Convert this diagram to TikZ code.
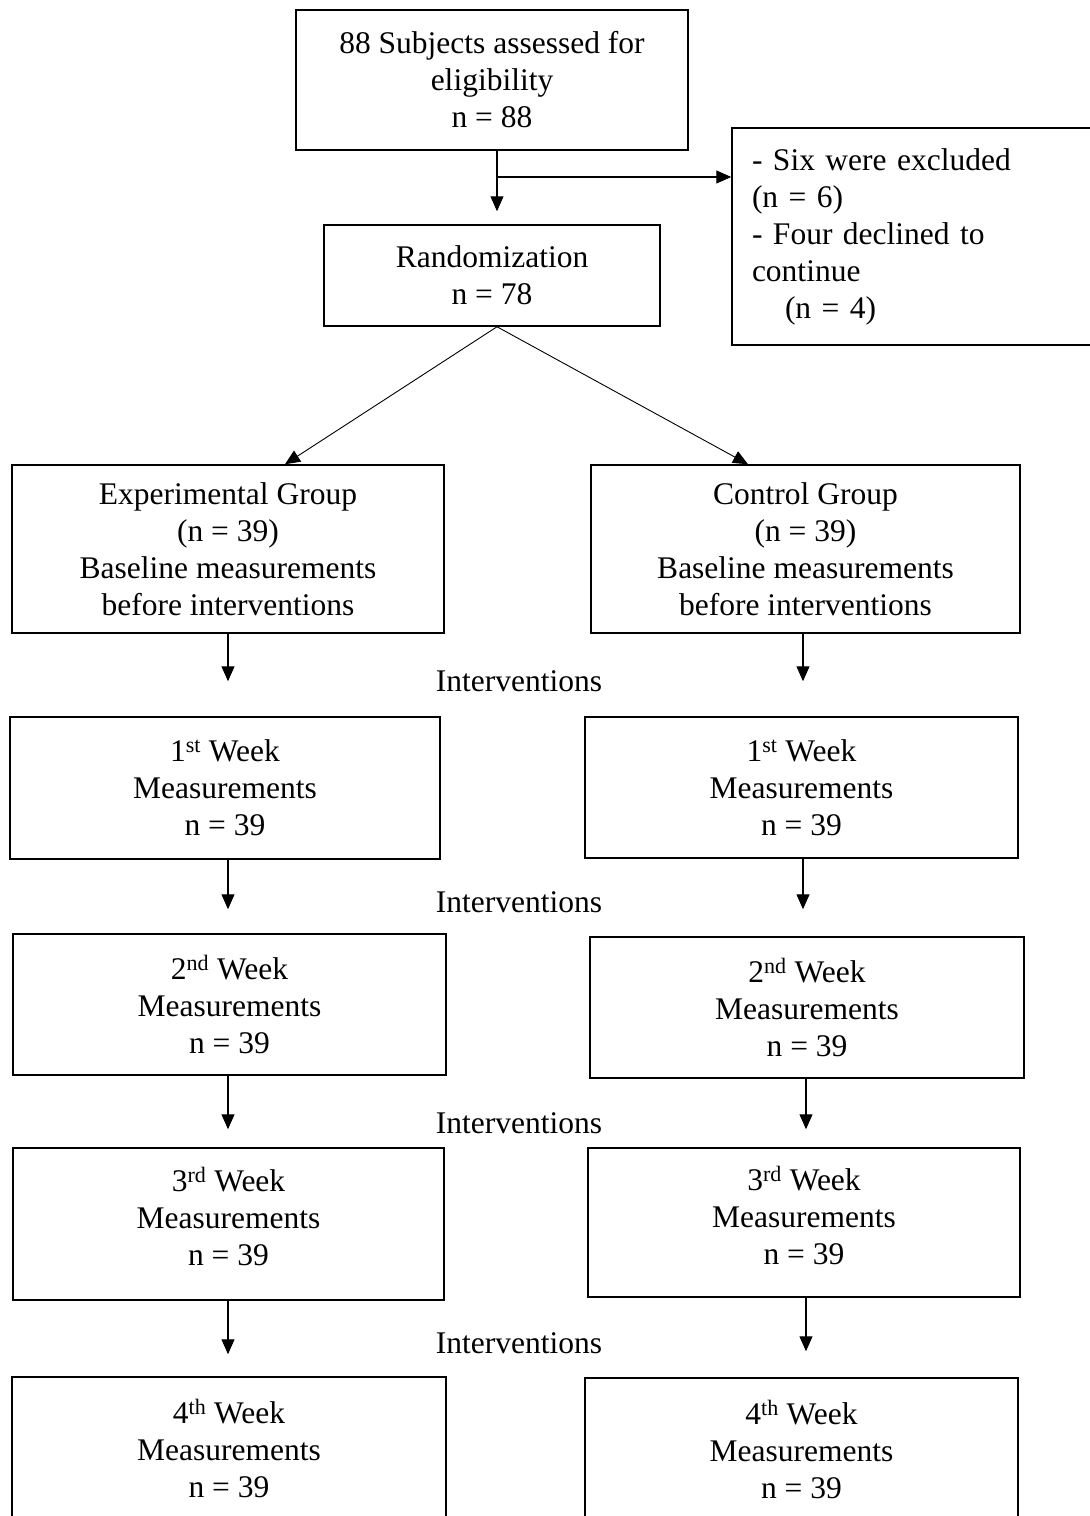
\documentclass[tikz,border=0pt]{standalone}
\usepackage{fontspec}
\setmainfont{Liberation Serif}
\usetikzlibrary{arrows.meta}
\begin{document}
\begin{tikzpicture}[x=1pt,y=-1pt,
  box/.style={draw, line width=1.5pt, rectangle, align=center, inner sep=0pt,
              font=\fontsize{31.5}{37}\selectfont},
  arr/.style={line width=1.1pt, -{Triangle[length=15pt,width=13pt]}},
  diag/.style={line width=0.9pt, -{Triangle[length=15pt,width=13pt]}},
  lbl/.style={font=\fontsize{31.5}{37}\selectfont, inner sep=0pt}]
\useasboundingbox (0,0) rectangle (1090,1516);
\clip (0,0) rectangle (1090,1516);

% boxes
\node[box, minimum width=392pt, minimum height=140pt] (top) at (492,80)
  {88 Subjects assessed for\\eligibility\\n = 88};
\node[box, minimum width=336pt, minimum height=101pt] (rand) at (492,275.5)
  {Randomization\\n = 78};
\node[box, align=left, text width=328pt, inner xsep=20pt, minimum height=217pt] (excl) at (916,236.5)
  {- Six were excluded\\(n = 6)\\- Four declined to\\continue\\\hspace*{33pt}(n = 4)};
\node[box, minimum width=432pt, minimum height=168pt] (exp) at (228,549)
  {Experimental Group\\(n = 39)\\Baseline measurements\\before interventions};
\node[box, minimum width=429pt, minimum height=168pt] (ctl) at (805.5,549)
  {Control Group\\(n = 39)\\Baseline measurements\\before interventions};

\node[box, minimum width=430pt, minimum height=142pt] (w1l) at (225,788)
  {1\textsuperscript{st} Week\\Measurements\\n = 39};
\node[box, minimum width=433pt, minimum height=141pt] (w1r) at (801.5,787.5)
  {1\textsuperscript{st} Week\\Measurements\\n = 39};
\node[box, minimum width=433pt, minimum height=141pt] (w2l) at (229.5,1004.5)
  {2\textsuperscript{nd} Week\\Measurements\\n = 39};
\node[box, minimum width=434pt, minimum height=141pt] (w2r) at (807,1007.5)
  {2\textsuperscript{nd} Week\\Measurements\\n = 39};
\node[box, minimum width=431pt, minimum height=152pt] (w3l) at (228.5,1224)
  {3\textsuperscript{rd} Week\\Measurements\\n = 39\\[-22pt]\mbox{}};
\node[box, minimum width=432pt, minimum height=149pt] (w3r) at (804,1222.5)
  {3\textsuperscript{rd} Week\\Measurements\\n = 39\\[-22pt]\mbox{}};
\node[box, minimum width=434pt, minimum height=142pt] (w4l) at (229,1448)
  {4\textsuperscript{th} Week\\Measurements\\n = 39};
\node[box, minimum width=433pt, minimum height=142pt] (w4r) at (801.5,1449)
  {4\textsuperscript{th} Week\\Measurements\\n = 39};

% interventions labels
\node[lbl] (i1) at (519,681) {Interventions};
\node[lbl] (i2) at (519,902) {Interventions};
\node[lbl] (i3) at (519,1123) {Interventions};
\node[lbl] (i4) at (519,1343) {Interventions};

% helper coordinates
\coordinate (j) at (497,177);
\coordinate (el) at (285,0);
\coordinate (er) at (748,0);
\coordinate (xl) at (228,0);
\coordinate (xr) at (803,0);
\coordinate (xr2) at (806,0);

% connectors
\draw[arr, shorten >=13pt] (top.south -| j) -- (rand.north -| j);
\draw[arr] (j) -- (j -| excl.west);
\draw[diag] (rand.south -| j) -- (exp.north -| el);
\draw[diag] (rand.south -| j) -- (ctl.north -| er);

\draw[arr, shorten >=35pt] (exp.south -| xl) -- (w1l.north -| xl);
\draw[arr, shorten >=24pt] (w1l.south -| xl) -- (w2l.north -| xl);
\draw[arr, shorten >=18pt] (w2l.south -| xl) -- (w3l.north -| xl);
\draw[arr, shorten >=22pt] (w3l.south -| xl) -- (w4l.north -| xl);

\draw[arr, shorten >=35pt] (ctl.south -| xr) -- (w1r.north -| xr);
\draw[arr, shorten >=27pt] (w1r.south -| xr) -- (w2r.north -| xr);
\draw[arr, shorten >=18pt] (w2r.south -| xr2) -- (w3r.north -| xr2);
\draw[arr, shorten >=26pt] (w3r.south -| xr2) -- (w4r.north -| xr2);
\end{tikzpicture}
\end{document}
